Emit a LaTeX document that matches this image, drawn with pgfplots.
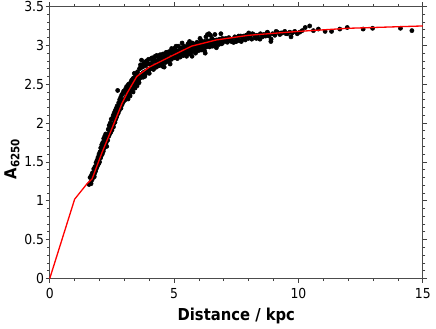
\documentclass[border=0pt]{standalone}
\usepackage{pgfplots}
\pgfplotsset{compat=1.18}
\usepackage{fontspec}
\setmainfont{DejaVu Sans Condensed}

% fitted curve
\pgfplotstableread{
x y
0 0
1 1.02
1.5 1.22
1.7 1.28
2.1 1.62
2.5 1.93
2.9 2.25
3.1 2.38
3.5 2.60
4 2.72
4.5 2.80
5 2.88
5.7 2.99
6.7 3.07
8 3.13
10 3.18
12 3.22
15 3.25
}\fitdata

% observed extinction
\pgfplotstableread{
x y
1.58 1.21
1.62 1.30
1.65 1.24
1.68 1.33
1.70 1.27
1.72 1.36
1.75 1.30
1.77 1.41
1.80 1.35
1.82 1.44
1.84 1.38
1.86 1.49
1.88 1.42
1.90 1.52
1.92 1.45
1.94 1.56
1.96 1.48
1.98 1.60
2.00 1.50
2.02 1.63
2.04 1.55
2.05 1.68
2.07 1.58
2.09 1.72
2.11 1.60
2.13 1.75
2.15 1.64
2.17 1.80
2.19 1.68
2.21 1.83
2.23 1.72
2.25 1.86
2.27 1.75
2.29 1.70
2.31 1.85
2.33 1.78
2.35 1.92
2.37 1.83
2.39 1.97
2.41 1.86
2.43 2.00
2.45 1.88
2.47 2.05
2.49 1.92
2.51 2.06
2.53 1.96
2.55 2.10
2.57 1.99
2.59 2.13
2.61 2.02
2.63 2.16
2.65 2.05
2.67 2.19
2.69 2.08
2.71 2.22
2.73 2.42
2.75 2.13
2.77 2.26
2.79 2.16
2.81 2.30
2.83 2.19
2.85 2.33
2.87 2.22
2.89 2.36
2.91 2.24
2.93 2.38
2.95 2.27
2.97 2.41
2.99 2.29
3.01 2.40
3.03 2.30
3.05 2.44
3.07 2.33
3.09 2.47
3.11 2.36
3.13 2.42
3.15 2.31
3.17 2.50
3.19 2.39
3.21 2.45
3.23 2.35
3.25 2.52
3.27 2.41
3.29 2.55
3.31 2.44
3.33 2.50
3.35 2.40
3.37 2.58
3.39 2.47
3.41 2.53
3.43 2.45
3.45 2.62
3.47 2.50
3.49 2.57
3.51 2.48
3.53 2.66
3.55 2.54
3.57 2.61
3.59 2.52
3.61 2.70
3.63 2.58
3.65 2.75
3.67 2.60
3.69 2.81
3.71 2.63
3.73 2.72
3.75 2.59
3.77 2.76
3.79 2.65
3.81 2.78
3.83 2.62
3.85 2.74
3.87 2.67
3.89 2.80
3.91 2.66
3.93 2.77
3.95 2.69
3.97 2.82
3.99 2.68
4.02 2.76
4.05 2.70
4.08 2.83
4.11 2.72
4.14 2.79
4.17 2.69
4.20 2.84
4.23 2.74
4.26 2.80
4.29 2.72
4.32 2.86
4.35 2.77
4.38 2.82
4.41 2.74
4.44 2.88
4.47 2.79
4.50 2.84
4.53 2.76
4.56 2.89
4.59 2.80
4.62 2.86
4.65 2.78
4.68 2.91
4.71 2.82
4.74 2.88
4.77 2.80
4.80 2.92
4.83 2.84
4.86 2.90
4.89 2.82
4.92 2.94
4.95 2.86
4.98 2.91
5.01 2.84
5.04 2.97
5.07 2.86
5.10 2.93
5.13 2.83
5.16 2.99
5.19 2.88
5.22 2.94
5.25 2.85
5.28 2.97
5.31 2.89
5.34 2.95
5.37 2.87
5.40 2.99
5.43 2.90
5.46 2.96
5.49 2.88
5.52 2.98
5.55 2.91
5.58 2.95
5.61 2.89
5.64 3.00
5.67 2.93
5.70 2.97
5.72 2.86
5.75 3.01
5.78 2.94
5.81 2.98
5.84 2.92
5.87 3.02
5.90 2.95
5.93 2.99
5.96 2.93
5.99 3.03
6.02 2.97
6.05 3.00
6.08 2.94
6.11 3.04
6.14 2.98
6.17 3.01
6.20 2.96
6.23 3.05
6.25 2.90
6.28 3.02
6.31 2.98
6.34 3.06
6.37 3.00
6.40 3.03
6.43 2.98
6.46 3.06
6.49 3.01
6.52 3.04
6.55 2.99
6.58 3.07
6.61 3.02
6.64 3.05
6.67 3.00
6.70 3.07
6.73 3.03
6.76 3.06
6.79 3.01
6.82 3.08
6.85 3.04
6.88 3.07
6.91 3.02
6.94 3.09
6.97 3.05
7.02 3.06
7.08 3.09
7.14 3.04
7.20 3.10
7.26 3.06
7.32 3.08
7.38 3.04
7.44 3.11
7.50 3.07
7.56 3.10
7.62 3.06
7.68 3.12
7.74 3.08
7.80 3.11
7.86 3.07
7.92 3.13
7.98 3.09
8.05 3.12
8.12 3.08
8.19 3.14
8.26 3.10
8.33 3.13
8.40 3.09
8.47 3.15
8.54 3.11
8.61 3.14
8.68 3.12
8.75 3.16
8.82 3.12
8.89 3.05
8.96 3.15
9.05 3.13
9.15 3.17
9.25 3.14
9.35 3.16
9.45 3.18
9.55 3.15
9.65 3.17
9.75 3.16
9.85 3.18
9.95 3.15
10.05 3.17
10.15 3.19
10.27 3.23
10.45 3.25
10.60 3.19
10.80 3.21
11.07 3.18
11.33 3.18
11.66 3.21
11.96 3.23
12.60 3.21
12.98 3.22
14.10 3.22
14.56 3.19
1.66 1.22
1.73 1.30
1.79 1.31
1.85 1.41
1.91 1.52
1.97 1.48
2.03 1.58
2.08 1.61
2.14 1.63
2.20 1.70
2.26 1.79
2.32 1.85
2.38 1.87
2.44 1.94
2.50 1.91
2.56 1.95
2.62 2.01
2.68 2.12
2.74 2.12
2.80 2.19
2.86 2.19
2.92 2.28
2.98 2.30
3.04 2.31
3.10 2.35
3.16 2.49
3.22 2.41
3.28 2.42
3.34 2.57
3.40 2.64
3.46 2.59
3.52 2.51
3.58 2.56
3.64 2.71
3.70 2.73
3.76 2.65
3.82 2.60
3.88 2.79
3.94 2.76
4.00 2.64
4.06 2.76
4.12 2.84
4.18 2.72
4.24 2.86
4.30 2.87
4.36 2.74
4.42 2.84
4.48 2.81
4.54 2.73
4.60 2.72
4.66 2.84
4.72 2.91
4.78 2.79
4.84 2.76
4.90 2.96
4.96 2.93
5.02 2.87
5.08 2.99
5.14 2.89
5.20 2.90
5.26 2.93
5.32 3.03
5.38 2.89
5.44 2.92
5.50 2.86
5.56 3.02
5.62 3.05
5.68 2.91
5.74 3.03
5.80 2.99
5.86 2.90
5.92 3.04
5.98 2.96
6.04 3.09
6.10 3.06
6.16 2.97
6.22 2.93
6.28 3.11
6.34 3.14
6.40 3.15
6.46 3.13
6.52 3.09
6.58 3.01
6.64 3.14
6.70 2.97
6.76 3.04
6.82 3.06
6.88 3.15
6.94 3.03
7.00 3.07
7.10 3.05
7.20 3.07
7.30 3.05
7.40 3.04
7.50 3.05
7.60 3.12
7.70 3.05
7.80 3.12
7.90 3.13
8.00 3.16
8.15 3.15
8.30 3.09
8.45 3.08
8.60 3.12
8.75 3.17
8.90 3.08
9.10 3.18
9.30 3.16
9.50 3.15
9.70 3.11
}\obsdata

\begin{document}
\begin{tikzpicture}
\begin{axis}[
    set layers,
    scale only axis,
    width=284pt, height=207pt,
    xmin=0, xmax=15,
    ymin=0, ymax=3.5,
    xtick={0,5,10,15},
    ytick={0,0.5,...,3.5},
    minor x tick num=4,
    minor y tick num=4,
    tick align=outside,
    major tick length=3.2pt,
    minor tick length=2pt,
    every tick/.style={black!75, line width=0.6pt},
    axis line style={black!70, line width=0.8pt},
    tick label style={font=\fontsize{10.5}{12}\selectfont},
    yticklabel style={inner sep=1pt},
    xticklabel style={inner sep=4pt},
    /pgf/number format/assume math mode=true,
    xlabel={\textbf{Distance / kpc}},
    ylabel={\textbf{A\textsubscript{6250}}},
    label style={font=\fontsize{12.5}{14}\selectfont},
    xlabel style={yshift=0pt},
    ylabel style={at={(ticklabel cs:0.44)}, yshift=-1pt},
    clip=false,
]
\addplot[only marks, mark=*, mark size=1.6pt, black] table {\obsdata};
\addplot[red, line width=1pt, on layer=axis foreground] table {\fitdata};
\end{axis}
\end{tikzpicture}
\end{document}
